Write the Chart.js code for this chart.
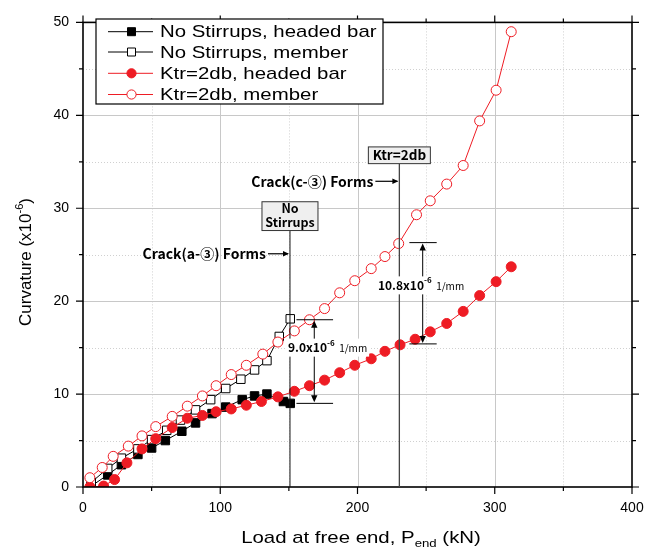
<!DOCTYPE html>
<html>
<head>
<meta charset="utf-8">
<script src="https://cdn.jsdelivr.net/npm/chart.js@4.4.0/dist/chart.umd.min.js"></script>
<style>
  html, body { margin: 0; padding: 0; background: #fff; }
</style>
</head>
<body>
<canvas id="myChart" width="665" height="552"></canvas>
<script>
// No Stirrups, headed bar
const nsHeadLoad = [6, 18, 28, 40, 50, 60, 72, 82, 94, 104, 116, 125, 134, 146, 151];
const nsHeadCurv = [0.1, 1.3, 2.4, 3.5, 4.2, 5.0, 6.0, 6.9, 7.9, 8.6, 9.4, 9.8, 10.0, 9.2, 9.0];
// No Stirrups, member
const nsMemLoad = [6, 18, 28, 40, 50, 61, 71, 82, 93, 104, 115, 125, 134, 143, 151];
const nsMemCurv = [0.5, 2.0, 3.1, 4.1, 5.1, 6.1, 7.2, 8.3, 9.4, 10.6, 11.6, 12.6, 13.6, 16.2, 18.1];
// Ktr=2db, headed bar
const ktrHeadLoad = [5, 15, 23, 32, 43, 53, 65, 76, 87, 97, 108, 119, 130, 142, 154, 165, 176, 187, 198, 210, 220, 231, 242, 253, 265, 277, 289, 301, 312];
const ktrHeadCurv = [0, 0.1, 0.8, 2.6, 4.1, 5.2, 6.4, 7.4, 7.7, 8.1, 8.4, 8.8, 9.2, 9.7, 10.3, 10.9, 11.5, 12.3, 13.1, 13.8, 14.6, 15.3, 15.9, 16.7, 17.6, 18.9, 20.6, 22.1, 23.7];
// Ktr=2db, member
const ktrMemLoad = [5, 14, 22, 33, 43, 53, 65, 76, 87, 97, 108, 119, 131, 142, 154, 165, 176, 187, 198, 210, 220, 230, 243, 253, 265, 277, 289, 301, 312];
const ktrMemCurv = [1.0, 2.1, 3.3, 4.4, 5.5, 6.5, 7.6, 8.7, 9.8, 10.9, 12.1, 13.1, 14.3, 15.6, 16.8, 18.0, 19.2, 20.9, 22.2, 23.5, 24.8, 26.2, 29.3, 30.8, 32.6, 34.6, 39.4, 42.7, 49.0];

const xTicks = [0, 100, 200, 300, 400];
const yTicks = [0, 10, 20, 30, 40, 50];
const seriesNames = ['No Stirrups, headed bar', 'No Stirrups, member', 'Ktr=2db, headed bar', 'Ktr=2db, member'];

const RED = '#ee1c24';
const ANNO_FONT = '"Noto Sans CJK KR", "DejaVu Sans", sans-serif';
const AXIS_FONT = '"Liberation Sans", Arial, sans-serif';

function pts(xs, ys) {
  return xs.map((v, i) => ({ x: v, y: ys[i] }));
}

// gridlines below the data
const gridPlugin = {
  id: 'gridPlugin',
  beforeDatasetsDraw(chart) {
    const { ctx, chartArea: a, scales: { x, y } } = chart;
    ctx.save();
    ctx.lineWidth = 1;
    for (let v = 50; v < 400; v += 50) {
      const px = Math.round(x.getPixelForValue(v)) + 0.5;
      ctx.strokeStyle = v % 100 === 0 ? '#c8c8c8' : '#d0d0d0';
      ctx.setLineDash(v % 100 === 0 ? [] : [1, 2]);
      ctx.beginPath(); ctx.moveTo(px, a.top); ctx.lineTo(px, a.bottom); ctx.stroke();
    }
    for (let v = 5; v < 50; v += 5) {
      const py = Math.round(y.getPixelForValue(v)) + 0.5;
      ctx.strokeStyle = v % 10 === 0 ? '#c8c8c8' : '#d0d0d0';
      ctx.setLineDash(v % 10 === 0 ? [] : [1, 2]);
      ctx.beginPath(); ctx.moveTo(a.left, py); ctx.lineTo(a.right, py); ctx.stroke();
    }
    ctx.restore();
  }
};

function rich(ctx, parts, x, y, align) {
  let w = 0;
  parts.forEach(p => { ctx.font = p.font; w += ctx.measureText(p.t).width * (p.sx || 1); });
  let cx = align === 'center' ? x - w / 2 : (align === 'right' ? x - w : x);
  parts.forEach(p => {
    ctx.font = p.font;
    ctx.save();
    ctx.translate(cx, y + (p.dy || 0));
    ctx.scale(p.sx || 1, 1);
    ctx.fillText(p.t, 0, 0);
    ctx.restore();
    cx += ctx.measureText(p.t).width * (p.sx || 1);
  });
  return w;
}

function arrowHead(ctx, x, y, dir, size) {
  ctx.beginPath();
  if (dir === 'up') { ctx.moveTo(x, y); ctx.lineTo(x - size / 2.2, y + size); ctx.lineTo(x + size / 2.2, y + size); }
  if (dir === 'down') { ctx.moveTo(x, y); ctx.lineTo(x - size / 2.2, y - size); ctx.lineTo(x + size / 2.2, y - size); }
  if (dir === 'right') { ctx.moveTo(x, y); ctx.lineTo(x - size, y - size / 2.2); ctx.lineTo(x - size, y + size / 2.2); }
  ctx.closePath();
  ctx.fill();
}

const decorPlugin = {
  id: 'decorPlugin',
  afterDatasetsDraw(chart) {
    const { ctx, chartArea: a, scales: { x, y } } = chart;
    const X = v => x.getPixelForValue(v);
    const Y = v => y.getPixelForValue(v);
    ctx.save();

    // frame
    ctx.strokeStyle = '#000';
    ctx.lineWidth = 1.6;
    ctx.strokeRect(a.left, a.top, a.right - a.left, a.bottom - a.top);

    // ticks on all four sides
    ctx.lineWidth = 1.2;
    for (let v = 0; v <= 400; v += 50) {
      const px = X(v), len = v % 100 === 0 ? 7 : 4;
      ctx.beginPath();
      ctx.moveTo(px, a.bottom); ctx.lineTo(px, a.bottom + len);
      ctx.moveTo(px, a.top); ctx.lineTo(px, a.top - len);
      ctx.stroke();
    }
    for (let v = 0; v <= 50; v += 5) {
      const py = Y(v), len = v % 10 === 0 ? 7 : 4;
      ctx.beginPath();
      ctx.moveTo(a.left, py); ctx.lineTo(a.left - len, py);
      ctx.moveTo(a.right, py); ctx.lineTo(a.right + len, py);
      ctx.stroke();
    }

    // vertical marker lines
    ctx.lineWidth = 1;
    ctx.strokeStyle = '#111';
    ctx.beginPath(); ctx.moveTo(X(150.8), Y(27.6)); ctx.lineTo(X(150.8), a.bottom); ctx.stroke();
    ctx.strokeStyle = '#444';
    ctx.lineWidth = 1.3;
    ctx.beginPath(); ctx.moveTo(X(230.5), Y(34.8)); ctx.lineTo(X(230.5), a.bottom); ctx.stroke();

    // boxes
    ctx.lineWidth = 1;
    ctx.strokeStyle = '#333';
    ctx.fillStyle = '#efefef';
    let bx = X(150.8);
    ctx.fillRect(bx - 28, Y(30.7), 56, Y(27.6) - Y(30.7));
    ctx.strokeRect(bx - 28, Y(30.7), 56, Y(27.6) - Y(30.7));
    let kx = X(230.5);
    ctx.fillRect(kx - 31, Y(36.6), 62, Y(34.8) - Y(36.6));
    ctx.strokeRect(kx - 31, Y(36.6), 62, Y(34.8) - Y(36.6));

    ctx.fillStyle = '#000';
    ctx.textBaseline = 'middle';
    ctx.textAlign = 'left';
    const bf = 'bold 12.5px ' + ANNO_FONT;
    rich(ctx, [{ t: 'No', font: bf }], bx, Y(30.7) + 7, 'center');
    rich(ctx, [{ t: 'Stirrups', font: bf }], bx, Y(30.7) + 21, 'center');
    rich(ctx, [{ t: 'Ktr=2db', font: 'bold 13.5px ' + ANNO_FONT }], kx, (Y(36.6) + Y(34.8)) / 2, 'center');

    // crack labels with arrows
    const cf = 'bold 14px ' + ANNO_FONT;
    ctx.lineWidth = 1.2;
    ctx.strokeStyle = '#000';
    let ay = Y(25.1);
    ctx.beginPath(); ctx.moveTo(bx - 22, ay); ctx.lineTo(bx - 2, ay); ctx.stroke();
    arrowHead(ctx, bx - 1, ay, 'right', 6);
    rich(ctx, [{ t: 'Crack(a-③) Forms', font: cf }], bx - 24, ay, 'right');
    let cy = Y(32.9);
    ctx.beginPath(); ctx.moveTo(kx - 24, cy); ctx.lineTo(kx - 2, cy); ctx.stroke();
    arrowHead(ctx, kx - 1, cy, 'right', 6);
    rich(ctx, [{ t: 'Crack(c-③) Forms', font: cf }], kx - 26, cy, 'right');

    // 9.0 difference marker
    ctx.lineWidth = 1;
    ctx.beginPath();
    ctx.moveTo(X(155.5), Y(18.0)); ctx.lineTo(X(182.2), Y(18.0));
    ctx.moveTo(X(155.5), Y(9.0)); ctx.lineTo(X(182.2), Y(9.0));
    ctx.moveTo(X(168.5), Y(18.0) + 6); ctx.lineTo(X(168.5), Y(9.0) - 6);
    ctx.stroke();
    arrowHead(ctx, X(168.5), Y(18.0) + 1, 'up', 7);
    arrowHead(ctx, X(168.5), Y(9.0) - 1, 'down', 7);

    // 10.8 difference marker
    ctx.beginPath();
    ctx.moveTo(X(237.8), Y(26.3)); ctx.lineTo(X(257.7), Y(26.3));
    ctx.moveTo(X(237.8), Y(15.4)); ctx.lineTo(X(257.7), Y(15.4));
    ctx.moveTo(X(247.5), Y(26.3) + 6); ctx.lineTo(X(247.5), Y(15.4) - 6);
    ctx.stroke();
    arrowHead(ctx, X(247.5), Y(26.3) + 1, 'up', 7);
    arrowHead(ctx, X(247.5), Y(15.4) - 1, 'down', 7);

    // difference labels on white
    const numF = 'bold 12px ' + ANNO_FONT;
    const supF = 'bold 8px ' + ANNO_FONT;
    const unitF = '10px ' + ANNO_FONT;
    const lab1 = [{ t: '9.0x10', font: numF }, { t: '-6', font: supF, dy: -5 }, { t: '  1/mm', font: unitF, dy: 1 }];
    const lab2 = [{ t: '10.8x10', font: numF }, { t: '-6', font: supF, dy: -5 }, { t: '  1/mm', font: unitF, dy: 1 }];
    ctx.fillStyle = '#fff';
    let w1 = rich(ctx, lab1, -1000, -1000, 'left');
    ctx.fillRect(X(178.2) - w1 / 2 - 2, Y(15.0) - 9, w1 + 4, 18);
    let w2 = rich(ctx, lab2, -1000, -1000, 'left');
    ctx.fillRect(X(246.3) - w2 / 2 - 2, Y(21.7) - 9, w2 + 4, 18);
    ctx.fillStyle = '#000';
    rich(ctx, lab1, X(178.2), Y(15.0), 'center');
    rich(ctx, lab2, X(246.3), Y(21.7), 'center');

    // legend
    const lx = 96, ly = 19, lw = 287, lh = 85;
    ctx.fillStyle = '#fff';
    ctx.fillRect(lx, ly, lw, lh);
    ctx.lineWidth = 1.2;
    ctx.strokeStyle = '#000';
    ctx.strokeRect(lx, ly, lw, lh);
    const rows = [31.7, 52, 73.3, 94.5];
    chart.data.datasets.forEach((ds, i) => {
      const ry = rows[i];
      ctx.strokeStyle = ds.borderColor;
      ctx.lineWidth = 1;
      ctx.beginPath(); ctx.moveTo(108, ry); ctx.lineTo(153, ry); ctx.stroke();
      ctx.fillStyle = ds.pointBackgroundColor;
      ctx.strokeStyle = ds.pointBorderColor;
      ctx.beginPath();
      if (ds.pointStyle === 'rect') ctx.rect(127.5, ry - 4, 8, 8);
      else ctx.arc(131.5, ry, 4.6, 0, Math.PI * 2);
      ctx.fill(); ctx.stroke();
      ctx.fillStyle = '#000';
      rich(ctx, [{ t: ds.label, font: '17px ' + AXIS_FONT, sx: 1.2 }], 160, ry + 1, 'left');
    });

    // axis titles
    ctx.fillStyle = '#000';
    ctx.textBaseline = 'alphabetic';
    rich(ctx, [
      { t: 'Load at free end, P', font: '17px ' + AXIS_FONT, sx: 1.2 },
      { t: 'end', font: '11px ' + AXIS_FONT, sx: 1.2, dy: 4 },
      { t: ' (kN)', font: '17px ' + AXIS_FONT, sx: 1.2 }
    ], 361, 543, 'center');
    ctx.save();
    ctx.translate(31, 262);
    ctx.rotate(-Math.PI / 2);
    rich(ctx, [
      { t: 'Curvature (x10', font: '17px ' + AXIS_FONT },
      { t: '-6', font: '11px ' + AXIS_FONT, dy: -8 },
      { t: ')', font: '17px ' + AXIS_FONT }
    ], 0, 0, 'center');
    ctx.restore();

    ctx.restore();
  }
};

const ctx = document.getElementById('myChart').getContext('2d');
const myChart = new Chart(ctx, {
  type: 'scatter',
  data: {
    datasets: [
      {
        label: seriesNames[0], data: pts(nsHeadLoad, nsHeadCurv), showLine: true,
        borderColor: '#000', borderWidth: 1, pointStyle: 'rect', pointRadius: 6,
        pointBackgroundColor: '#000', pointBorderColor: '#000', pointBorderWidth: 1, order: 4
      },
      {
        label: seriesNames[1], data: pts(nsMemLoad, nsMemCurv), showLine: true,
        borderColor: '#000', borderWidth: 1, pointStyle: 'rect', pointRadius: 6,
        pointBackgroundColor: '#fff', pointBorderColor: '#000', pointBorderWidth: 1, order: 3
      },
      {
        label: seriesNames[2], data: pts(ktrHeadLoad, ktrHeadCurv), showLine: true,
        borderColor: RED, borderWidth: 1, pointStyle: 'circle', pointRadius: 5,
        pointBackgroundColor: RED, pointBorderColor: RED, pointBorderWidth: 1, order: 2
      },
      {
        label: seriesNames[3], data: pts(ktrMemLoad, ktrMemCurv), showLine: true,
        borderColor: RED, borderWidth: 1, pointStyle: 'circle', pointRadius: 5,
        pointBackgroundColor: '#fff', pointBorderColor: RED, pointBorderWidth: 1, order: 1
      }
    ]
  },
  options: {
    responsive: false,
    animation: false,
    events: [],
    layout: { padding: { top: 12, right: 33, left: 0, bottom: 0 } },
    plugins: { legend: { display: false }, tooltip: { enabled: false } },
    scales: {
      x: {
        type: 'linear', min: 0, max: 400,
        afterBuildTicks: s => { s.ticks = xTicks.map(v => ({ value: v })); },
        afterFit: s => { s.height = 65; },
        ticks: { color: '#000', font: { family: AXIS_FONT, size: 14 }, padding: 13, maxRotation: 0 },
        grid: { display: true, drawOnChartArea: false, drawTicks: false },
        border: { display: false }
      },
      y: {
        min: 0, max: 50,
        afterBuildTicks: s => { s.ticks = yTicks.map(v => ({ value: v })); },
        afterFit: s => { s.width = 83; },
        ticks: { color: '#000', font: { family: AXIS_FONT, size: 14 }, padding: 14 },
        grid: { display: true, drawOnChartArea: false, drawTicks: false },
        border: { display: false }
      }
    }
  },
  plugins: [gridPlugin, decorPlugin]
});
</script>
</body>
</html>
